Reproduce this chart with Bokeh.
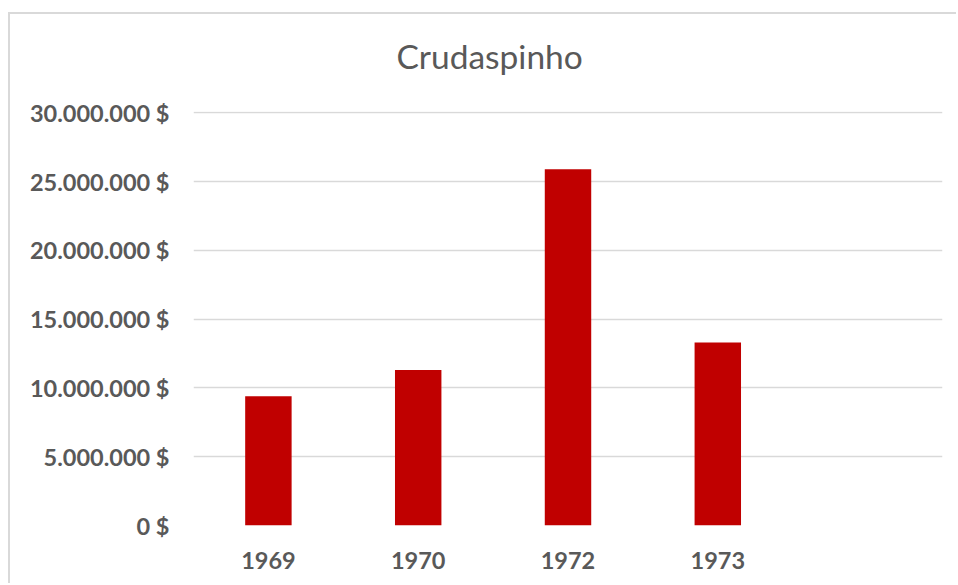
from bokeh.plotting import figure
from bokeh.models import FactorRange, Range1d, Title, FixedTicker
from bokeh.embed import file_html
from bokeh.resources import INLINE

title_text = "Crudaspinho"
years = ["1969", "1970", "1972", "1973", " "]
values = [9400000, 11300000, 25900000, 13300000, None]
y_ticks = [0, 5000000, 10000000, 15000000, 20000000, 25000000, 30000000]
y_tick_labels = ["0 $", "5.000.000 $", "10.000.000 $", "15.000.000 $",
                 "20.000.000 $", "25.000.000 $", "30.000.000 $"]

TEXT = "#595959"
GRID = "#d9d9d9"
BAR = "#c00000"
FONT = "Lato"

p = figure(width=948, height=571, output_backend="svg", toolbar_location=None,
           title=title_text,
           x_range=FactorRange(factors=years, range_padding=0),
           y_range=Range1d(0, 30100000),
           min_border_left=183, min_border_right=16,
           min_border_top=97, min_border_bottom=60)
p.styles = {"margin-top": "12px", "margin-left": "8px",
            "border-top": "2px solid #d9d9d9",
            "border-left": "2px solid #d9d9d9"}

# spacer between title and plot area
p.add_layout(Title(text=" ", text_font_size="1px", standoff=33), "above")

p.title.align = "left"
p.title.offset = 203
p.title.standoff = 0
p.title.text_font = FONT
p.title.text_font_size = "33.5px"
p.title.text_font_style = "normal"
p.title.text_color = TEXT

bx = [y for y, v in zip(years, values) if v is not None]
bv = [v for v in values if v is not None]
p.vbar(x=bx, top=bv, width=0.31, color=BAR, line_color=None)

p.outline_line_color = None
p.xgrid.grid_line_color = None
p.ygrid.grid_line_color = GRID
p.ygrid.grid_line_width = 1.5
p.yaxis.ticker = FixedTicker(ticks=y_ticks)
p.yaxis.major_label_overrides = {t: l for t, l in zip(y_ticks, y_tick_labels)}

for ax in (p.xaxis, p.yaxis):
    ax.axis_line_color = None
    ax.major_tick_line_color = None
    ax.minor_tick_line_color = None
    ax.major_tick_out = 0
    ax.major_tick_in = 0
    ax.major_label_text_font = FONT
    ax.major_label_text_font_style = "bold"
    ax.major_label_text_font_size = "23.5px"
    ax.major_label_text_color = TEXT
p.yaxis.major_label_standoff = 24
p.xaxis.major_label_standoff = 20

open("out.html", "w").write(file_html(p, INLINE))
